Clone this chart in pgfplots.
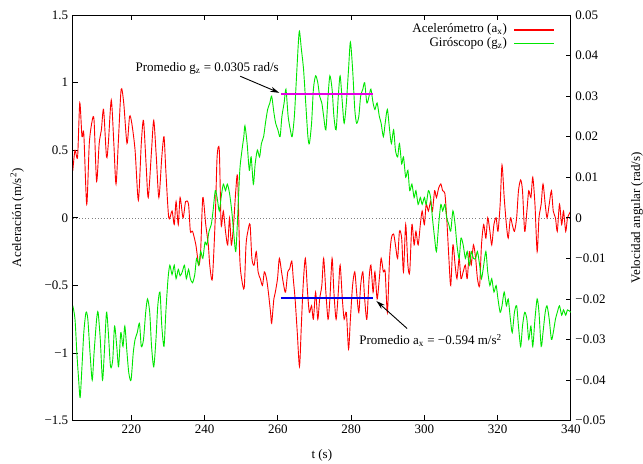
\documentclass[border=0pt]{standalone}
\usepackage{fontspec}
\setmainfont{Liberation Serif}
\usepackage{pgfplots}
\usepackage{pgfplotstable}
\pgfplotsset{compat=1.18}
\usetikzlibrary{arrows.meta}
\definecolor{gred}{RGB}{255,0,0}
\definecolor{ggreen}{RGB}{0,230,0}
\definecolor{gmag}{RGB}{230,0,230}
\definecolor{gblue}{RGB}{0,0,235}

\pgfplotstableread{
t a
204.0 0.35
204.6 0.5
205.3 0.45
205.9 0.85
206.5 0.6
207.0 0.62
207.8 0.1
208.5 0.55
209.3 0.72
209.8 0.72
210.5 0.27
211.2 0.55
211.8 0.65
212.4 0.8
213.2 0.45
213.7 0.55
214.5 0.87
215.2 0.55
215.8 0.25
216.5 0.6
217.2 0.95
217.9 0.85
218.8 0.55
219.5 0.75
220.1 0.7
221.0 0.5
221.9 0.13
222.7 0.55
223.3 0.72
224.0 0.4
224.6 0.15
225.5 0.5
226.1 0.72
226.8 0.45
227.5 0.15
228.3 0.45
228.9 0.6
229.4 0.35
230.2 0.0
231.1 0.05
231.7 -0.05
232.2 0.12
232.8 -0.05
233.3 0.15
234.1 0.0
234.8 0.12
235.6 0.1
236.1 -0.1
236.7 -0.1
237.6 -0.2
238.4 -0.35
238.9 -0.25
239.5 0.15
240.3 -0.05
241.0 -0.2
241.4 -0.35
242.1 -0.45
242.9 0.0
243.4 0.45
244.0 0.5
244.5 -0.05
245.1 0.05
245.7 -0.1
246.3 -0.2
246.8 0.0
247.3 -0.2
247.9 -0.05
248.5 0.2
249.0 0.3
249.6 -0.3
250.1 -0.45
250.8 -0.52
251.3 -0.2
251.8 -0.1
252.4 -0.05
252.9 -0.3
253.5 -0.35
254.1 -0.25
254.6 -0.4
255.2 -0.45
255.8 -0.5
256.3 -0.4
256.9 -0.45
257.4 -0.55
258.0 -0.7
258.3 -0.78
258.9 -0.6
259.3 -0.55
259.9 -0.45
260.4 -0.3
261.0 -0.4
261.6 -0.5
262.1 -0.55
262.7 -0.4
263.2 -0.38
263.8 -0.32
264.2 -0.45
264.7 -0.6
265.3 -0.85
265.9 -1.1
266.4 -0.8
266.9 -0.5
267.5 -0.3
268.1 -0.55
268.6 -0.7
269.2 -0.65
269.7 -0.75
270.3 -0.55
270.9 -0.75
271.4 -0.6
272.0 -0.5
272.5 -0.3
273.1 -0.55
273.7 -0.75
274.2 -0.6
274.8 -0.3
275.3 -0.55
275.9 -0.75
276.5 -0.55
277.0 -0.35
277.6 -0.6
278.1 -0.75
278.7 -0.7
279.3 -0.97
279.8 -0.75
280.4 -0.5
281.0 -0.4
281.5 -0.55
282.1 -0.7
282.6 -0.5
283.2 -0.4
283.7 -0.6
284.3 -0.75
284.9 -0.45
285.4 -0.35
286.0 -0.55
286.5 -0.4
287.1 -0.6
287.7 -0.45
288.2 -0.3
288.8 -0.4
289.3 -0.4
289.9 -0.7
290.5 -0.3
291.0 -0.15
291.6 -0.12
292.1 -0.2
292.7 -0.3
293.2 -0.1
293.8 -0.15
294.3 -0.4
294.9 -0.05
295.5 -0.35
296.0 -0.4
296.6 -0.05
297.2 -0.2
297.7 -0.1
298.3 -0.2
298.9 -0.05
299.4 0.05
300.0 -0.05
300.5 0.1
301.1 0.05
301.7 0.12
302.2 0.05
302.8 0.2
303.3 0.15
303.9 0.22
304.5 0.25
305.0 0.2
305.6 0.18
306.1 0.0
306.7 -0.3
307.2 -0.5
307.8 -0.2
308.4 -0.35
308.9 -0.45
309.5 -0.3
310.0 -0.45
310.6 -0.4
311.2 -0.35
311.7 -0.45
312.3 -0.25
312.8 -0.35
313.4 -0.2
314.0 -0.3
314.5 -0.45
315.1 -0.5
315.6 -0.2
316.2 -0.05
316.8 -0.15
317.3 0.0
317.9 -0.1
318.4 -0.2
319.0 -0.05
319.6 0.0
320.1 -0.1
320.7 0.1
321.2 0.39
321.8 0.15
322.4 -0.05
322.9 -0.15
323.5 0.0
324.0 -0.05
324.6 -0.1
325.2 0.0
325.7 0.2
326.3 0.28
326.8 0.2
327.4 -0.1
328.0 0.05
328.5 0.2
329.1 0.15
329.6 0.3
330.2 0.1
330.8 -0.25
331.3 0.0
331.9 0.1
332.4 0.25
333.0 0.1
333.5 0.0
334.1 0.1
334.7 0.2
335.2 0.05
335.8 0.0
336.3 -0.1
336.9 0.1
337.5 -0.05
338.0 0.05
338.6 -0.1
339.1 0.0
340.0 0.05
}\accel

\pgfplotstableread{
t g
204.0 -0.0217
204.6 -0.025
205.1 -0.0333
205.6 -0.04
206.0 -0.0443
206.5 -0.0367
207.0 -0.0283
207.6 -0.0233
208.1 -0.025
208.7 -0.0333
209.3 -0.04
209.8 -0.0333
210.5 -0.025
210.9 -0.0233
211.5 -0.03
212.1 -0.04
212.6 -0.0333
213.2 -0.0233
213.7 -0.0283
214.3 -0.0367
214.9 -0.035
215.4 -0.0267
216.0 -0.0317
216.5 -0.0367
217.1 -0.0283
217.7 -0.0317
218.2 -0.0267
218.8 -0.0333
219.3 -0.0383
219.9 -0.04
220.5 -0.0333
221.0 -0.03
221.6 -0.0283
222.2 -0.026
222.7 -0.0317
223.3 -0.03
223.9 -0.0233
224.4 -0.02
225.0 -0.0233
225.5 -0.0317
226.1 -0.0367
226.7 -0.03
227.2 -0.0217
227.8 -0.0183
228.3 -0.0267
228.9 -0.0317
229.4 -0.0233
230.0 -0.015
230.5 -0.0117
231.1 -0.014
231.7 -0.0117
232.2 -0.015
232.8 -0.0127
233.3 -0.0143
233.9 -0.0133
234.5 -0.0117
235.0 -0.015
235.6 -0.0127
236.1 -0.015
236.7 -0.016
237.3 -0.014
237.8 -0.01
238.4 -0.0117
238.9 -0.0083
239.5 -0.01
240.1 -0.006
240.6 -0.0067
241.2 -0.0033
241.8 -0.0017
242.3 0.0017
242.9 0.0067
243.4 0.005
244.0 0.0017
244.5 0.005
245.1 0.0083
245.7 0.0067
246.2 0.0083
246.8 0.006
247.4 0.0017
247.9 -0.0033
248.5 -0.0083
249.0 0
249.6 0.0117
250.2 0.0167
250.7 0.02
251.0 0.0227
251.6 0.0183
252.2 0.0117
252.7 0.015
253.3 0.0083
253.8 0.0133
254.4 0.0167
255.0 0.015
255.5 0.0183
256.1 0.02
256.6 0.0233
257.2 0.0267
257.8 0.0283
258.3 0.03
258.9 0.026
259.4 0.0233
260.0 0.0217
260.6 0.02
261.1 0.025
261.7 0.0283
262.2 0.0317
262.8 0.025
263.4 0.0217
263.9 0.02
264.5 0.025
265.0 0.0333
265.6 0.0433
265.9 0.046
266.4 0.0417
267.0 0.0367
267.6 0.0283
268.2 0.02
268.6 0.0183
269.2 0.0233
269.7 0.0317
270.3 0.035
270.9 0.0333
271.4 0.03
272.0 0.0283
272.5 0.025
273.1 0.0217
273.7 0.03
274.2 0.035
274.8 0.0317
275.3 0.025
275.9 0.0217
276.5 0.03
277.0 0.035
277.6 0.0283
278.1 0.0233
278.7 0.0283
279.3 0.0367
279.8 0.0433
280.4 0.0367
281.0 0.0267
281.5 0.0233
282.1 0.025
282.6 0.03
283.2 0.0317
283.7 0.0333
284.3 0.0283
284.9 0.03
285.4 0.0317
286.0 0.0283
286.5 0.0267
287.1 0.0283
287.7 0.025
288.2 0.0233
288.8 0.02
289.3 0.0233
289.9 0.0267
290.5 0.0217
291.0 0.0183
291.6 0.0217
292.1 0.0167
292.7 0.015
293.2 0.0183
293.8 0.0133
294.3 0.015
294.9 0.01
295.5 0.0117
296.0 0.0067
296.6 0.0083
297.2 0.005
297.7 0.0067
298.3 0.0033
298.9 0.005
299.4 0.0033
300.0 0.005
300.5 0.0033
301.1 0.0067
301.7 0.005
302.2 0
302.8 -0.005
303.3 -0.0083
303.9 -0.0017
304.5 0.0033
305.0 0.0017
305.6 0.0033
306.1 0
306.7 -0.0017
307.2 -0.0033
307.8 0.0017
308.4 -0.0017
308.9 -0.0067
309.5 -0.01
310.0 -0.005
310.6 -0.0067
311.2 -0.01
311.7 -0.0083
312.3 -0.0117
312.8 -0.0083
313.4 -0.01
314.0 -0.01
314.5 -0.0083
315.1 -0.0117
315.6 -0.015
316.2 -0.0117
316.8 -0.0083
317.3 -0.0133
317.9 -0.0167
318.4 -0.015
319.0 -0.0183
319.6 -0.0167
320.1 -0.02
320.7 -0.0233
321.2 -0.0217
321.8 -0.0183
322.4 -0.0217
322.9 -0.02
323.5 -0.025
324.0 -0.0283
324.6 -0.0233
325.2 -0.0217
325.7 -0.0267
326.3 -0.0317
326.8 -0.0267
327.4 -0.0233
328.0 -0.025
328.5 -0.03
329.1 -0.0267
329.6 -0.0317
330.2 -0.025
330.8 -0.02
331.3 -0.0233
331.9 -0.0317
332.4 -0.0283
333.0 -0.0233
333.5 -0.0217
334.1 -0.025
334.7 -0.03
335.2 -0.0283
335.8 -0.025
336.3 -0.0233
336.9 -0.0217
337.5 -0.024
338.0 -0.0227
338.6 -0.024
339.1 -0.0227
340.0 -0.0233
}\gyro

\begin{document}
\begin{tikzpicture}
\pgfplotsset{
 every axis/.append style={
  scale only axis, width=383pt, height=312pt,
  xmin=204, xmax=340,
  axis line style={line width=0.6pt},
  major tick length=4pt,
  tick style={black, line width=0.6pt},
  tick label style={font=\fontsize{10}{12}\selectfont},
  label style={font=\fontsize{10}{12}\selectfont},
  scaled ticks=false,
 }
}
\begin{axis}[name=ax, ymin=-1.5, ymax=1.5,
 xtick={220,240,260,280,300,320,340},
 xticklabels={220,240,260,280,300,320,340},
 xtick pos=both, xticklabel pos=lower,
 ytick={-1.5,-1,-0.5,0,0.5,1,1.5},
 yticklabels={−1.5,−1,−0.5,0,0.5,1,1.5},
 ytick pos=left,
 xlabel={t (s)}, ylabel={Aceleración (m/s\textsuperscript{2})},
 xlabel style={at={(axis description cs:0.5,-0.086)}, anchor=center},
 ylabel style={at={(axis description cs:-0.112,0.5)}, anchor=center},
]
\addplot[gray, dotted, line width=0.4pt] coordinates {(204,0) (340,0)};
\addplot[draw=gred, line width=0.7pt, smooth, tension=0.45] table[x=t, y=a] {\accel};
\addplot[gblue, line width=2pt] coordinates {(260.8,-0.594) (286,-0.594)};
\end{axis}
\begin{axis}[ymin=-0.05, ymax=0.05,
 axis y line*=right, axis x line=none,
 ytick={-0.05,-0.04,-0.03,-0.02,-0.01,0,0.01,0.02,0.03,0.04,0.05},
 yticklabels={−0.05,−0.04,−0.03,−0.02,−0.01,0,0.01,0.02,0.03,0.04,0.05},
 ylabel={Velocidad angular (rad/s)},
 ylabel style={at={(axis description cs:1.133,0.5)}, anchor=center},
]
\addplot[ggreen, line width=0.7pt, smooth, tension=0.45] table[x=t, y=g] {\gyro};
\addplot[gmag, line width=2pt] coordinates {(260.8,0.0305) (286,0.0305)};
% legend lines
\draw[draw=gred, line width=1.1pt] (axis description cs:0.886,0.963) -- (axis description cs:0.967,0.963);
\draw[draw=ggreen, line width=1.1pt] (axis description cs:0.886,0.929) -- (axis description cs:0.967,0.929);
\node[font=\fontsize{10}{12}\selectfont] at (axis cs:240.7,0.0369) {Promedio g\textsubscript{z} = 0.0305 rad/s};
\draw[-{Stealth[length=7pt,width=4pt]}, line width=0.7pt] (axis cs:249.7,0.0349) -- (axis cs:260.4,0.0308);
\node[font=\fontsize{10}{12}\selectfont] at (axis cs:301.7,-0.0302) {Promedio a\textsubscript{x} = −0.594 m/s\textsuperscript{2}};
\draw[-{Stealth[length=7pt,width=4pt]}, line width=0.7pt] (axis cs:295.3,-0.0273) -- (axis cs:286.9,-0.0205);
\node[anchor=east, inner sep=0pt, font=\fontsize{10}{12}\selectfont] at (axis description cs:0.872,0.965) {Acelerómetro (a\textsubscript{x})};
\node[anchor=east, inner sep=0pt, font=\fontsize{10}{12}\selectfont] at (axis description cs:0.872,0.931) {Giróscopo (g\textsubscript{z})};
\end{axis}
\pgfresetboundingbox
\path[use as bounding box] ([xshift=-56pt,yshift=-33pt]ax.south west) rectangle ([xshift=55.5pt,yshift=11.5pt]ax.north east);
\end{tikzpicture}
\end{document}
